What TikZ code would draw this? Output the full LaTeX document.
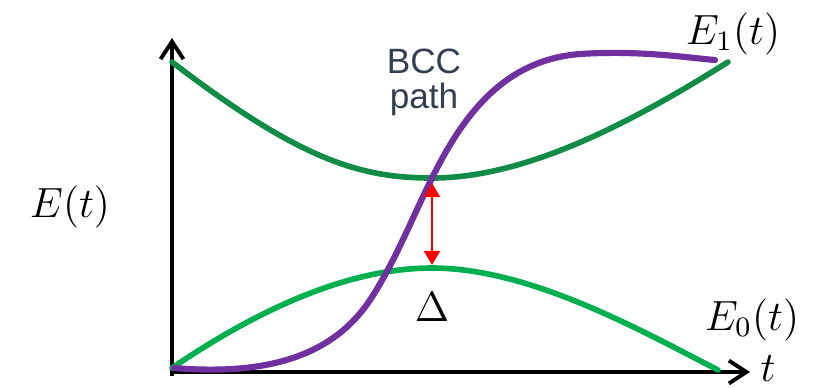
\documentclass[tikz,border=0pt]{standalone}
\usepackage{amsmath}
\usepackage{fontspec}
\setsansfont{Liberation Sans}
\usetikzlibrary{arrows.meta}

\definecolor{uppergreen}{RGB}{16,140,70}
\definecolor{lowergreen}{RGB}{0,176,80}
\definecolor{bccpurple}{RGB}{112,48,160}
\definecolor{slate}{RGB}{51,63,80}

\begin{document}
\begin{tikzpicture}[x=0.01cm,y=-0.01cm,
    axis/.style={line width=1.1pt,-{Straight Barb[length=5pt,width=6.5pt,line width=1.1pt]}},
    curve/.style={line width=1.6pt,line cap=round},
    lbl/.style={font=\large}]
  \useasboundingbox (0,0) rectangle (825,387);
  % axes
  \coordinate (origin) at (172,372);
  \coordinate (ytip) at (172,38);
  \coordinate (xtip) at (750,372);
  \draw[axis] (172,376) -- (ytip);
  \draw[axis] (170,372) -- (xtip);
  % energy levels
  \draw[curve,uppergreen] (172,62) .. controls (300,160) and (360,178) .. (432,178)
    .. controls (520,178) and (620,130) .. (728,62);
  \draw[curve,lowergreen] (172,368) .. controls (260,308) and (350,268) .. (432,268)
    .. controls (530,268) and (640,330) .. (718,370);
  % BCC path
  \draw[curve,bccpurple,line width=1.75pt] (174,368) .. controls (260,375) and (330,360) .. (370,300)
    .. controls (395,262) and (412,218) .. (432,178)
    .. controls (460,122) and (500,60) .. (580,54)
    .. controls (640,50) and (690,58) .. (715,60);
  % gap
  \coordinate (gaptop) at (432,183);
  \coordinate (gapbot) at (432,265);
  \draw[red,line width=0.7pt,{Triangle[length=4pt,width=4.5pt]}-{Triangle[length=4pt,width=4.5pt]}] (gaptop) -- (gapbot);
  % labels
  \node[lbl] (eoft) at (70,207) {$E(t)$};
  \node[lbl] (eone) at (733,34) {$E_1(t)$};
  \node[lbl] (ezero) at (752,320) {$E_0(t)$};
  \node[lbl] (tlbl) at (768,369) {$t$};
  \node[lbl] (gap) at (432,307) {$\Delta$};
  \node[font=\sffamily,text=slate,align=center] (bcc) at (424,82) {BCC\\[-2pt]path};
\end{tikzpicture}
\end{document}
